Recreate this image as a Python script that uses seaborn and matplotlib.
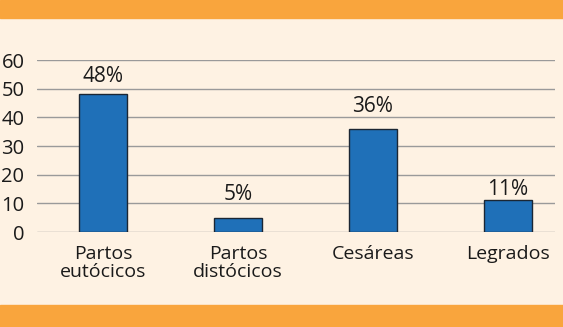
import numpy as np
import pandas as pd
import matplotlib.pyplot as plt
import seaborn as sns
from matplotlib.patches import Rectangle

categorias = ['Partos\neutócicos', 'Partos\ndistócicos', 'Cesáreas', 'Legrados']
porcentajes = [48, 5, 36, 11]
etiquetas = ['48%', '5%', '36%', '11%']
yticks = [0, 10, 20, 30, 40, 50, 60]
# altura (en unidades del eje) de la base de cada etiqueta
alto_etiqueta = [52.3, 11.2, 41.9, 12.9]

fondo = '#FEF2E3'
naranja = '#F9A53D'
azul = '#1F70B8'
texto = '#1a1a1a'

sns.set_style('white')
plt.rcParams['font.family'] = ['Open Sans', 'DejaVu Sans']

df = pd.DataFrame({'cat': categorias, 'pct': porcentajes})

fig = plt.figure(figsize=(5.63, 3.27), dpi=100, facecolor=fondo)
ax = fig.add_axes([0.0657, 0.2905, 0.9203, 0.526])
ax.set_facecolor(fondo)

# bandas naranjas arriba y abajo
fig.patches.append(Rectangle((0, 0.945), 1, 0.055, transform=fig.transFigure, color=naranja, zorder=0))
fig.patches.append(Rectangle((0, 0), 1, 0.067, transform=fig.transFigure, color=naranja, zorder=0))

sns.barplot(data=df, x='cat', y='pct', color=azul, saturation=1, width=0.355,
            edgecolor='#1b2633', linewidth=1.0, ax=ax, zorder=3)

for i, (h, t) in enumerate(zip(alto_etiqueta, etiquetas)):
    ax.text(i, h, t, ha='center', va='baseline', fontsize=15, color=texto)

ax.set_ylim(0, 60)
ax.set_xlim(-0.49, 3.35)
ax.set_yticks(yticks)
ax.yaxis.grid(True, color='#9a9a9a', linewidth=1.0, zorder=0)
ax.set_axisbelow(True)
for s in ax.spines.values():
    s.set_visible(False)
ax.tick_params(axis='y', length=0, labelsize=14.5, colors=texto, pad=9)
ax.tick_params(axis='x', length=0, labelsize=14, colors=texto, pad=9)
for lbl in ax.get_xticklabels():
    lbl.set_linespacing(1.0)
ax.set_xlabel('')
ax.set_ylabel('')

fig.savefig('out.png', dpi=100, facecolor=fondo)
